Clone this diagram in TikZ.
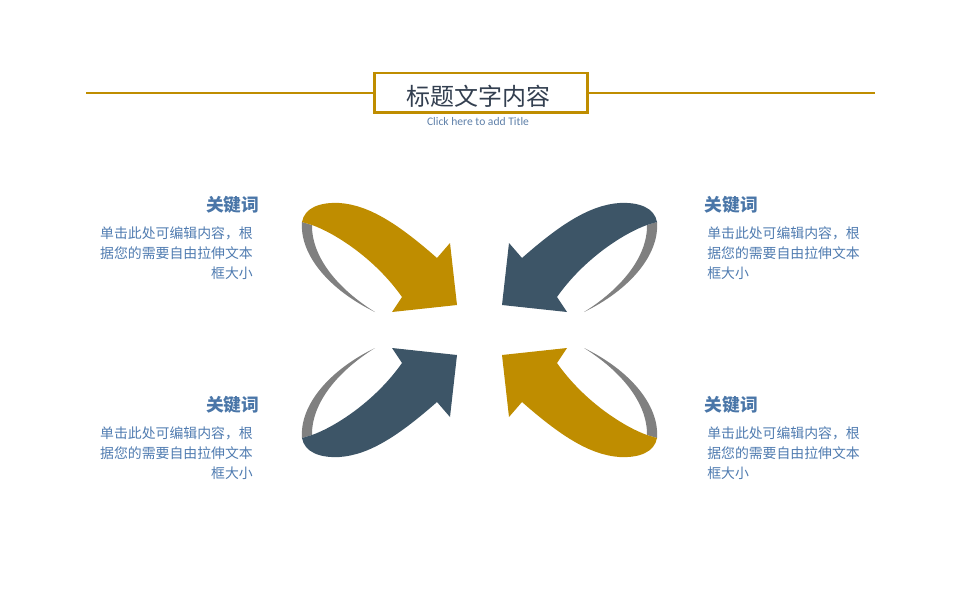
\documentclass[tikz,border=0pt]{standalone}
\usepackage{fontspec}
\setmainfont{Carlito}
\newfontfamily\cjk{Noto Sans CJK SC}
\definecolor{goldc}{HTML}{BF8D00}
\definecolor{darkc}{HTML}{3D5567}
\definecolor{greyc}{HTML}{808080}
\definecolor{headc}{HTML}{4A76A8}
\definecolor{bodyc}{HTML}{4F7BB0}
\definecolor{titlec}{HTML}{333F50}
\definecolor{clickc}{HTML}{5E7FA8}
\newcommand\ringarrow[1]{%
  \fill[greyc] (-177.5,-108) .. controls (-180,-75) and (-150,-40) .. (-104.5,-18)
    .. controls (-140,-40) and (-168,-72) .. (-167.5,-105) -- cycle;
  \fill[#1] (-167.5,-105) .. controls (-145,-97) and (-105,-72) .. (-77.5,-33)
    -- (-87.5,-18) -- (-22.5,-25) -- (-29.5,-87) -- (-42.5,-72)
    .. controls (-80,-105) and (-110,-125) .. (-140,-127)
    .. controls (-160,-128) and (-175,-122) .. (-177.5,-108) -- cycle;
}
\tikzset{
  kw/.style={inner sep=0pt, text=headc, font=\cjk\bfseries\fontsize{13.3pt}{16pt}\selectfont},
  bodytxt/.style={inner sep=0pt, text=bodyc, font=\cjk\fontsize{10.4pt}{15pt}\selectfont},
  titlebox/.style={draw=goldc, line width=1.9pt, fill=white, minimum width=213*0.75pt, minimum height=39.5*0.75pt, inner sep=0pt},
  rule/.style={draw=goldc, line width=1.5pt}
}
\begin{document}
\begin{tikzpicture}[x=0.75pt,y=-0.75pt]
\useasboundingbox (0,0) rectangle (960,600);
% title rule and box
\coordinate (ruleL) at (86,93.3);
\coordinate (ruleR) at (875,93.3);
\draw[rule] (ruleL) -- (ruleR);
\node[titlebox] (tbox) at (481,92.7) {};
\node[inner sep=0pt, anchor=base, text=titlec, font=\cjk\fontsize{18pt}{20pt}\selectfont] (title) at (478.5,105.5) {标题文字内容};
\node[inner sep=0pt, anchor=base, text=clickc, font=\fontsize{8.7pt}{10pt}\selectfont] (click) at (478,125.5) {Click here to add Title};
% arrows
\begin{scope}[shift={(479.5,330)}]
  \ringarrow{goldc}
\end{scope}
\begin{scope}[shift={(479.5,330)}, xscale=-1]
  \ringarrow{darkc}
\end{scope}
\begin{scope}[shift={(479.5,330)}, yscale=-1]
  \ringarrow{darkc}
\end{scope}
\begin{scope}[shift={(479.5,330)}, xscale=-1, yscale=-1]
  \ringarrow{goldc}
\end{scope}
% top-left text
\node[kw, anchor=base east] (kwTL) at (259.5,211) {关键词};
\node[bodytxt, anchor=base east] (tl1) at (253,238) {单击此处可编辑内容，根};
\node[bodytxt, anchor=base east] (tl2) at (253,258) {据您的需要自由拉伸文本};
\node[bodytxt, anchor=base east] (tl3) at (253,278) {框大小};
% top-right text
\node[kw, anchor=base west] (kwTR) at (704.5,211) {关键词};
\node[bodytxt, anchor=base west] (tr1) at (707,238) {单击此处可编辑内容，根};
\node[bodytxt, anchor=base west] (tr2) at (707,258) {据您的需要自由拉伸文本};
\node[bodytxt, anchor=base west] (tr3) at (707,278) {框大小};
% bottom-left text
\node[kw, anchor=base east] (kwBL) at (259.5,411.5) {关键词};
\node[bodytxt, anchor=base east] (bl1) at (253,438.5) {单击此处可编辑内容，根};
\node[bodytxt, anchor=base east] (bl2) at (253,458.5) {据您的需要自由拉伸文本};
\node[bodytxt, anchor=base east] (bl3) at (253,478.5) {框大小};
% bottom-right text
\node[kw, anchor=base west] (kwBR) at (704.5,411.5) {关键词};
\node[bodytxt, anchor=base west] (br1) at (707,438.5) {单击此处可编辑内容，根};
\node[bodytxt, anchor=base west] (br2) at (707,458.5) {据您的需要自由拉伸文本};
\node[bodytxt, anchor=base west] (br3) at (707,478.5) {框大小};
\end{tikzpicture}
\end{document}
